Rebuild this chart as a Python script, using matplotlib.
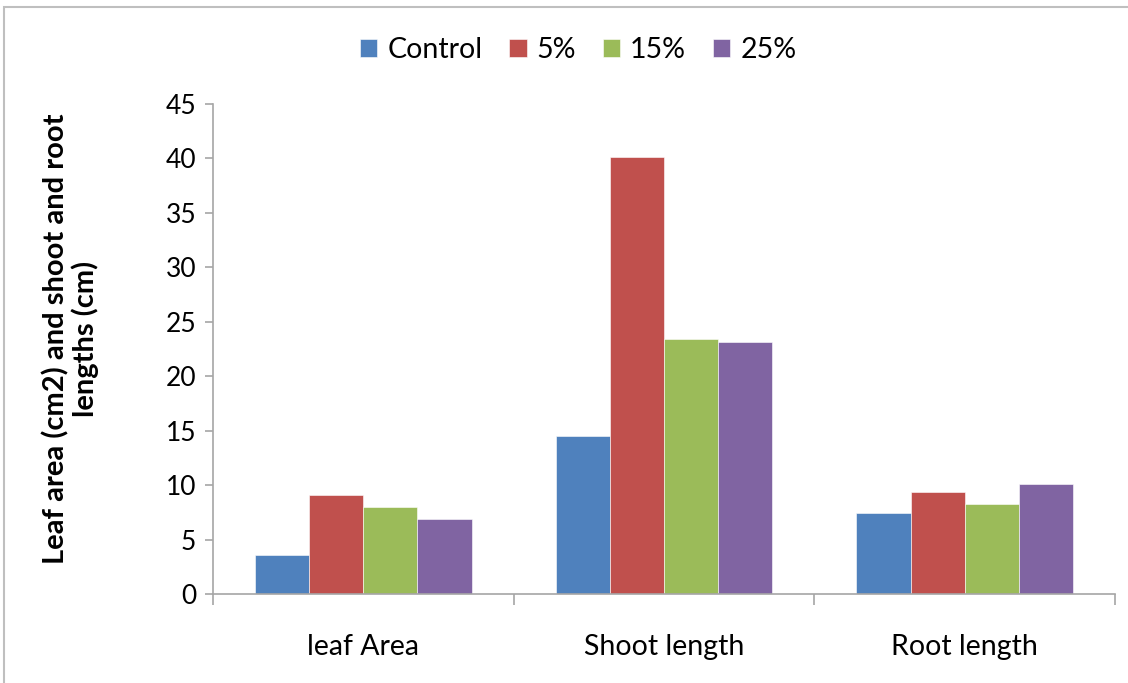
import numpy as np
import matplotlib.pyplot as plt
from matplotlib.patches import Rectangle

categories = ["leaf Area", "Shoot length", "Root length"]
series = ["Control", "5%", "15%", "25%"]
control = [3.55, 14.55, 7.4]
pct5 = [9.05, 40.1, 9.4]
pct15 = [7.95, 23.45, 8.3]
pct25 = [6.85, 23.1, 10.1]
colors = ["#4F81BD", "#C0504D", "#9BBB59", "#8064A2"]

plt.rcParams['font.family'] = ['Lato', 'DejaVu Sans']

fig = plt.figure(figsize=(11.28, 6.83), dpi=100)
ax = fig.add_axes([0.1888, 0.1303, 0.7997, 0.7174])

# thin grey border around the chart area
fig.patches.append(Rectangle((4 / 1128, -0.05), 1.1, 1 - 7 / 683 + 0.05,
                             transform=fig.transFigure, fill=False,
                             edgecolor="#bfbfbf", linewidth=1.5))

x = np.arange(len(categories))
w = 0.18
for i, (name, vals) in enumerate(zip(series, [control, pct5, pct15, pct25])):
    ax.bar(x + (i - 1.5) * w, vals, w, color=colors[i], label=name,
           edgecolor="white", linewidth=0.4)

ax.set_xlim(-0.5, 2.5)
ax.set_ylim(0, 45)
ax.set_yticks(range(0, 46, 5))
ax.set_xticks(x)
ax.set_xticklabels(categories)
ax.set_xticks([-0.5, 0.5, 1.5, 2.5], minor=True)
ax.tick_params(axis="x", which="major", length=0, pad=29, labelsize=20.5)
ax.tick_params(axis="x", which="minor", length=8, color="#a6a6a6", width=1.2)
ax.tick_params(axis="y", length=6, color="#a6a6a6", width=1.2, labelsize=19, pad=6)

for side in ["top", "right"]:
    ax.spines[side].set_visible(False)
for side in ["left", "bottom"]:
    ax.spines[side].set_color("#a6a6a6")
    ax.spines[side].set_linewidth(1.2)

ax.set_ylabel("Leaf area (cm2) and shoot and root\nlengths (cm)",
              fontsize=21, fontweight="bold", linespacing=1.12)
ax.yaxis.set_label_coords(-0.126, 0.52)

ax.legend(loc="center", bbox_to_anchor=(0.405, 1.11), ncol=4, frameon=False,
          fontsize=20.5, handlelength=0.6, handleheight=0.6, handletextpad=0.35,
          columnspacing=0.95)

fig.savefig("out.png", dpi=100)
